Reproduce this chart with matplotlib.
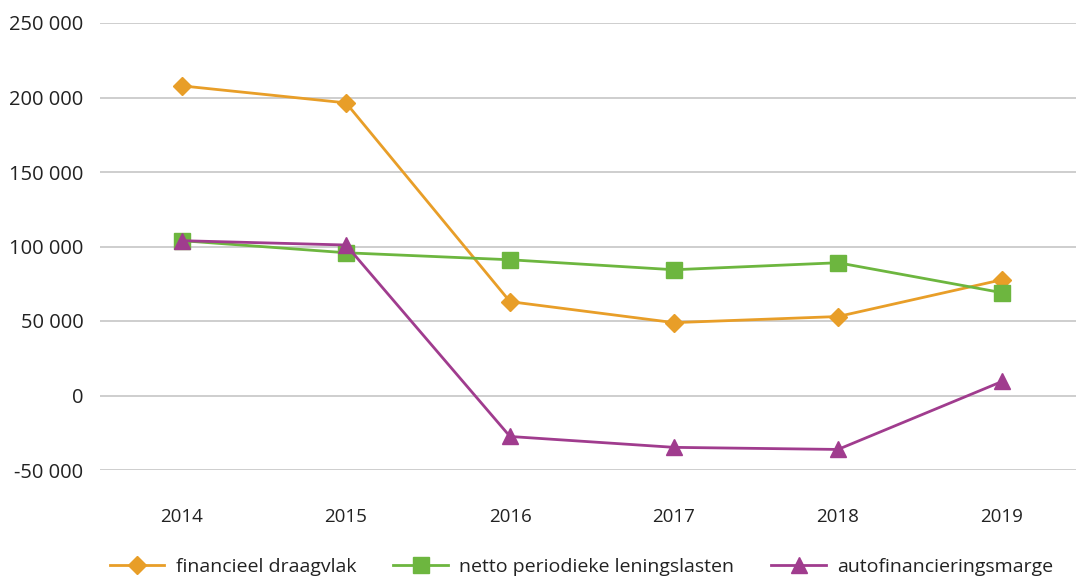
import matplotlib
matplotlib.use("Agg")
from matplotlib import pyplot as plt
from matplotlib.ticker import FuncFormatter

years = ["2014", "2015", "2016", "2017", "2018", "2019"]
draagvlak = [207800, 196400, 63000, 48900, 53000, 77700]
leningslasten = [103900, 95800, 91100, 84400, 89100, 69000]
autofin = [103900, 101000, -27500, -34800, -36200, 9400]

labels = ["financieel draagvlak", "netto periodieke leningslasten", "autofinancieringsmarge"]
colors = ["#E89E28", "#6DB63F", "#A03C8E"]
markers = ["D", "s", "^"]

plt.rcParams['font.family'] = ['Open Sans', 'DejaVu Sans']

fig = plt.figure(figsize=(10.76, 5.79), dpi=100)
ax = fig.add_axes([100/1076, 109/579, 984/1076, 447/579])

x = list(range(len(years)))
for vals, lab, c, m in zip([draagvlak, leningslasten, autofin], labels, colors, markers):
    ms = 9 if m == "D" else 11
    ax.plot(x, vals, color=c, lw=2, marker=m, markersize=ms, label=lab, clip_on=False)

ax.set_xlim(-0.5, 5.5)
ax.set_ylim(-50000, 250000)
ax.set_yticks(range(-50000, 250001, 50000))
ax.yaxis.set_major_formatter(FuncFormatter(lambda v, p: f"{int(v):,}".replace(",", " ")))
ax.set_xticks(x)
ax.set_xticklabels(years)
ax.grid(axis='y', color='#c6c6c6', lw=1.2)
ax.set_axisbelow(True)
for s in ax.spines.values():
    s.set_visible(False)
ax.tick_params(length=0, colors='#222222')
ax.tick_params(axis='y', labelsize=14.5, pad=12)
ax.tick_params(axis='x', labelsize=13.5, pad=27)

fig.legend(loc='center left', bbox_to_anchor=(100/1076, 12/579), ncol=3, frameon=False,
           fontsize=14, handlelength=2.8, handletextpad=0.6, columnspacing=1.9,
           labelcolor='#222222', borderpad=0)

fig.savefig("out.png", dpi=100)
